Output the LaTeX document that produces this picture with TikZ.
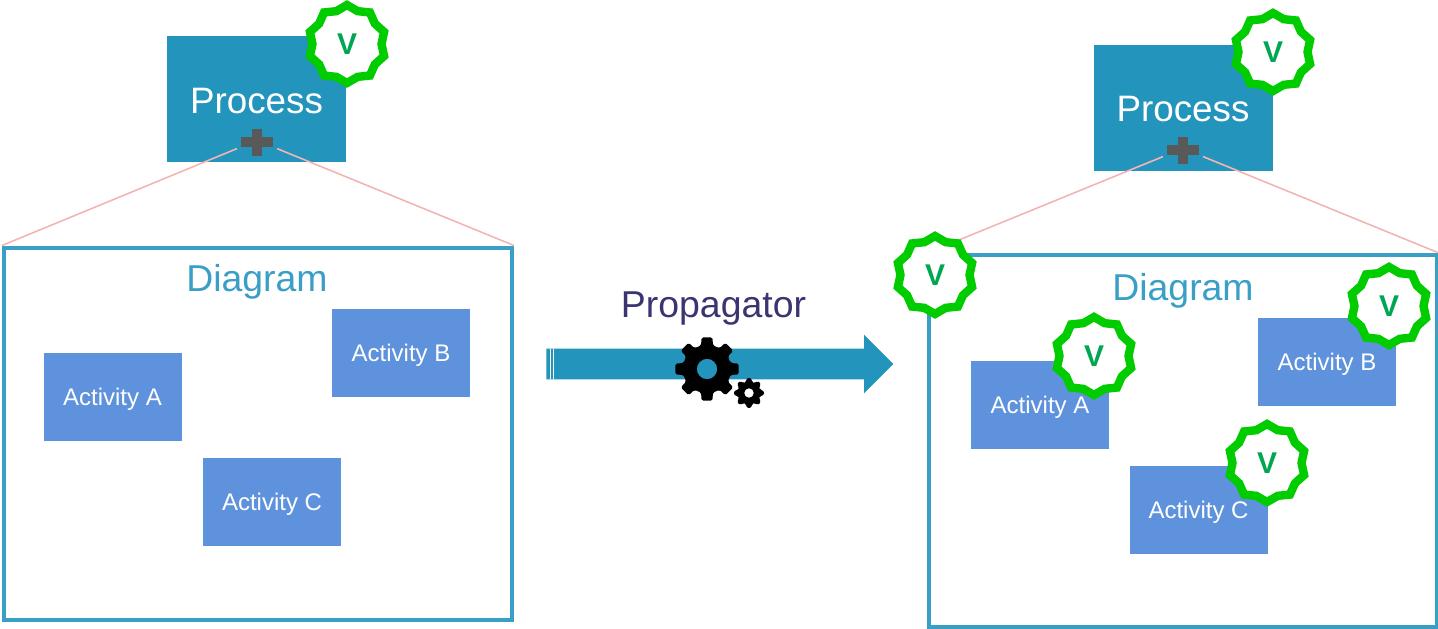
\documentclass[tikz,border=0pt]{standalone}
\usepackage{fontspec}
\setmainfont{Liberation Sans}
\usetikzlibrary{shapes.geometric, shapes.arrows, positioning}

\definecolor{procblue}{HTML}{2394BC}
\definecolor{actblue}{HTML}{5F92DC}
\definecolor{diagblue}{HTML}{3A9FC6}
\definecolor{badgegreen}{HTML}{00CC00}
\definecolor{vgreen}{HTML}{00A651}
\definecolor{linkpink}{HTML}{F4B4B4}
\definecolor{plusgrey}{HTML}{595959}
\definecolor{propink}{HTML}{3A3470}

\tikzset{
    process/.style={fill=procblue, text=white, minimum width=89.5pt, minimum height=63pt, inner sep=0pt, font=\fontsize{18.4}{20}\selectfont},
    diagram/.style={draw=diagblue, line width=2pt, fill=white, minimum width=254pt, minimum height=186pt, inner sep=0pt},
    activity/.style={fill=actblue, text=white, minimum width=69pt, minimum height=44pt, inner sep=0pt, text height=10.5pt, text depth=2.5pt, font=\fontsize{12}{14}\selectfont},
    badge/.style={star, star points=10, star point ratio=1.13, draw=badgegreen, line width=4.2pt, fill=white, text=vgreen, minimum size=39pt, inner sep=0pt, font=\bfseries\fontsize{15}{16}\selectfont},
    plusbar/.style={fill=plusgrey, minimum width=16pt, minimum height=4.7pt, inner sep=0pt},
    link/.style={draw=linkpink, line width=0.8pt, shorten <=2pt},
    title/.style={text=diagblue, font=\fontsize{18.7}{20}\selectfont},
    gearicon/.pic={
        % eight teeth round a hole, radius 1 is the tip of a tooth
        \fill[black, even odd rule, rounded corners=0.8pt] (-14:0.76)
            \foreach \a in {0,45,...,315} {
                -- (\a-14:0.76) -- (\a-10:1) -- (\a+10:1) -- (\a+14:0.76)
            } -- cycle
            (0,0) circle (0.32);
    }
}

\begin{document}
\begin{tikzpicture}[x=0.5pt, y=-0.5pt]
        \useasboundingbox (0,0) rectangle (1438,628);

        % Left side
        \node[process] (procL) at (256.5,99) {};
        \node[text=white, font=\fontsize{18.4}{20}\selectfont] (procLtext) at (256.5,101) {Process};
        \node[plusbar] (plusL) at (257,142) {};
        \node[plusbar, rotate=90, minimum width=13.5pt] (plusLv) at (plusL) {};

        \node[diagram] (diagL) at (258,433.5) {};
        \draw[link] (plusL.south west) -- (diagL.north west);
        \draw[link] (plusL.south east) -- (diagL.north east);
        \node[title] (titleL) at (257,282) {Diagram};

        \node[activity] (actLA) at (112.5,397) {Activity A};
        \node[activity] (actLB) at (401,353) {Activity B};
        \node[activity] (actLC) at (272,502) {Activity C};

        \node[badge] (badgeL) at (347,44) {V};

        % Propagator arrow
        \node[single arrow, fill=procblue, minimum height=173.5pt, minimum width=29pt,
              single arrow head extend=7pt, single arrow head indent=0pt, inner xsep=0pt, inner ysep=7.5pt,
              anchor=west] (arrowP) at (546,364) {};
        \draw[white, line width=0.5pt] (550.5,349) -- (550.5,379);
        \draw[white, line width=0.5pt] (553.5,349) -- (553.5,379);
        \node[text=propink, font=\fontsize{18.7}{20}\selectfont] (labelP) at (713.5,309) {Propagator};
        \pic[scale=32] at (707,369) {gearicon};
        \pic[scale=15] at (749,393) {gearicon};

        % Right side
        \node[process] (procR) at (1183.5,107.5) {};
        \node[text=white, font=\fontsize{18.4}{20}\selectfont] (procRtext) at (1183,109) {Process};
        \node[plusbar] (plusR) at (1183,150) {};
        \node[plusbar, rotate=90, minimum width=13.5pt] (plusRv) at (plusR) {};

        \node[diagram] (diagR) at (1183,441) {};
        \draw[link] (plusR.south west) -- (diagR.north west);
        \draw[link] (plusR.south east) -- (diagR.north east);
        \node[title] (titleR) at (1183,291) {Diagram};

        \node[activity] (actRA) at (1040,405) {Activity A};
        \node[activity] (actRB) at (1327,362) {Activity B};
        \node[activity] (actRC) at (1198.5,510) {Activity C};

        \node[badge] (badgeR) at (1273,52) {V};
        \node[badge] (badgeRD) at (935,275) {V};
        \node[badge] (badgeRA) at (1094,356) {V};
        \node[badge] (badgeRB) at (1389,306) {V};
        \node[badge] (badgeRC) at (1267,463) {V};
\end{tikzpicture}
\end{document}
